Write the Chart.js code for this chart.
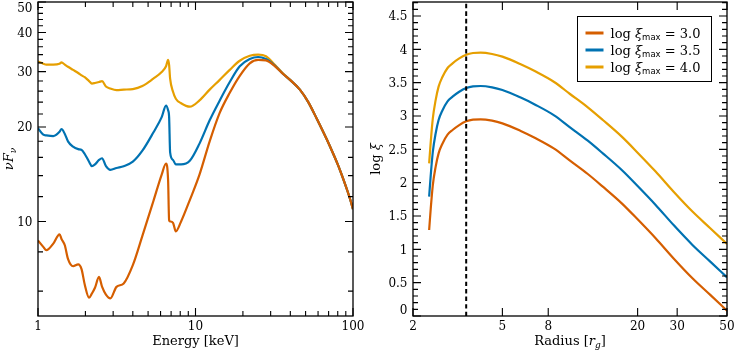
<!DOCTYPE html>
<html lang="es">
<head>
<meta charset="utf-8">
<title>Espectros y perfil de ionización</title>
<script src="https://cdn.jsdelivr.net/npm/chart.js@4.4.1/dist/chart.umd.min.js"></script>
<style>
  html, body { margin: 0; padding: 0; background: #fff; overflow: hidden; }
  canvas { position: absolute; left: 0; top: 0; }
</style>
</head>
<body>
<canvas id="grafico-espectros" width="736" height="351"></canvas>
<canvas id="grafico-ionizacion" width="736" height="351"></canvas>
<script>
// ---- Panel izquierdo: nuFnu vs energía [keV] ----
const energias = [1.0, 1.08, 1.13, 1.25, 1.37, 1.41, 1.48, 1.55, 1.67, 1.80, 1.89, 1.98, 2.11, 2.2, 2.3, 2.44, 2.55, 2.7, 2.88, 3.15,
  3.5, 4.0, 4.6, 5.4, 6.1, 6.5, 6.7, 6.8, 6.9, 7.2, 7.5, 8.1, 9.2, 10.6, 12.3, 14.2, 16.5, 19.1, 22.1, 25,
  28, 32, 36, 40, 46, 52, 59, 68, 75, 80, 83, 87, 92, 96, 100];
const espectroXi40 = [32.3, 31.8, 31.6, 31.6, 31.8, 32.1, 31.6, 31.1, 30.4, 29.7, 29.2, 28.8, 28.0, 27.5, 27.6, 27.8, 28.0, 26.9, 26.5, 26.2,
  26.3, 26.4, 27.0, 28.5, 29.9, 31.2, 32.7, 31.5, 28.5, 25.9, 24.6, 23.8, 23.2, 24.3, 26.3, 28.2, 30.4, 32.5, 33.7, 34.0,
  33.6, 31.5, 29.6, 28.2, 26.3, 24.0, 21.2, 18.3, 16.4, 15.2, 14.5, 13.6, 12.55, 11.75, 10.95];
const espectroXi35 = [19.8, 18.9, 18.8, 18.7, 19.3, 19.7, 19.0, 18.0, 17.3, 17.0, 16.9, 16.4, 15.5, 15.0, 15.2, 15.7, 15.9, 15.0, 14.6, 14.8,
  15.0, 15.5, 16.8, 19.2, 21.5, 23.4, 22.6, 21.5, 16.6, 15.7, 15.2, 15.2, 15.6, 17.7, 21.0, 24.2, 27.8, 31.2, 32.9, 33.4,
  32.9, 31.3, 29.5, 28.2, 26.3, 24.0, 21.2, 18.3, 16.4, 15.2, 14.5, 13.6, 12.55, 11.75, 10.95];
const espectroXi30 = [8.7, 8.3, 8.1, 8.5, 9.1, 8.8, 8.4, 7.6, 7.2, 7.3, 7.05, 6.3, 5.72, 5.9, 6.15, 6.66, 6.2, 5.85, 5.69, 6.19,
  6.35, 7.26, 9.0, 11.6, 14.1, 15.3, 13.5, 10.1, 10.0, 9.9, 9.3, 10.0, 11.7, 14.1, 18.0, 22.1, 25.7, 29.1, 31.9, 32.7,
  32.6, 31.2, 29.5, 28.2, 26.3, 24.0, 21.2, 18.3, 16.4, 15.2, 14.5, 13.6, 12.55, 11.75, 10.95];

// ---- Panel derecho: log xi vs radio [r_g] ----
const radios = [2.36, 2.40, 2.45, 2.52, 2.6, 2.7, 2.85, 3.0, 3.2, 3.45, 3.7, 4.0, 4.5, 5, 6, 7, 8.5, 10, 12, 14,
  17, 20, 24, 29, 35, 42, 50];
const perfilXi40 = [2.29, 2.62, 2.96, 3.23, 3.44, 3.58, 3.72, 3.79, 3.86, 3.92, 3.945, 3.95, 3.93, 3.89, 3.78, 3.67, 3.51, 3.33, 3.13, 2.94,
  2.69, 2.45, 2.17, 1.86, 1.57, 1.32, 1.08];
const perfilXi35 = [1.79, 2.12, 2.46, 2.73, 2.94, 3.08, 3.22, 3.29, 3.36, 3.42, 3.445, 3.45, 3.43, 3.39, 3.28, 3.17, 3.01, 2.83, 2.63, 2.44,
  2.19, 1.95, 1.67, 1.36, 1.07, 0.82, 0.58];
const perfilXi30 = [1.29, 1.62, 1.96, 2.23, 2.44, 2.58, 2.72, 2.79, 2.86, 2.92, 2.945, 2.95, 2.93, 2.89, 2.78, 2.67, 2.51, 2.33, 2.13, 1.94,
  1.69, 1.45, 1.17, 0.86, 0.57, 0.32, 0.08];
const radioMarcado = 3.45;

// Valores de log xi_max para la leyenda
const valoresXiMax = ['3.0', '3.5', '4.0'];

// Marcas de los ejes
const ticksEnergia = [1, 10, 100];
const etiquetasEnergia = ['1', '10', '100'];
const ticksEnergiaMenores = [2, 3, 4, 5, 6, 7, 8, 9, 20, 30, 40, 50, 60, 70, 80, 90];
const ticksFlujo = [10, 20, 30, 40, 50];
const etiquetasFlujo = ['10', '20', '30', '40', '50'];
const ticksFlujoMenores = [6, 8, 12, 14, 16, 18, 22, 24, 26, 28, 32, 34, 36, 38, 42, 44, 46, 48];
const ticksRadio = [2, 5, 8, 20, 30, 50];
const etiquetasRadio = ['2', '5', '8', '20', '30', '50'];
const ticksXi = [0, 0.5, 1, 1.5, 2, 2.5, 3, 3.5, 4, 4.5];
const etiquetasXi = ['0', '0.5', '1', '1.5', '2', '2.5', '3', '3.5', '4', '4.5'];

const colores = ['#D55E00', '#0072B2', '#E69F00'];
const SERIF = '"DejaVu Serif", serif';

// marcas menores de log xi cada 0.1 (sin las de 0.5)
const ticksXiMenores = [];
for (let i = 1; i <= 47; i++) {
  if (i % 5 !== 0) ticksXiMenores.push(i / 10);
}

function puntos(xs, ys) {
  return xs.map((x, i) => ({ x: x, y: ys[i] }));
}

/**
 * Dibuja texto con tramos (cursiva, subíndices) centrado en (x, y)
 */
function dibujarTramos(ctx, tramos, x, y) {
  let total = 0;
  tramos.forEach(t => { ctx.font = t.font; total += ctx.measureText(t.t).width; });
  let cx = x - total / 2;
  ctx.textAlign = 'left';
  ctx.textBaseline = 'alphabetic';
  tramos.forEach(t => {
    ctx.font = t.font;
    ctx.fillText(t.t, cx, y + (t.dy || 0));
    cx += ctx.measureText(t.t).width;
  });
}

/**
 * Plugin: marco, marcas hacia adentro, etiquetas, títulos y leyenda
 */
function crearMarco(cfg) {
  return {
    id: 'marco',
    afterDatasetsDraw(chart) {
      const ctx = chart.ctx;
      const a = chart.chartArea;
      const sx = chart.scales.x, sy = chart.scales.y;
      ctx.save();
      ctx.strokeStyle = '#000';
      ctx.fillStyle = '#000';
      ctx.lineWidth = 1.1;

      // Marcas en X (abajo y arriba)
      const marcasX = (vals, largo) => vals.forEach(v => {
        const p = sx.getPixelForValue(v);
        ctx.beginPath();
        ctx.moveTo(p, a.bottom); ctx.lineTo(p, a.bottom - largo);
        ctx.moveTo(p, a.top); ctx.lineTo(p, a.top + largo);
        ctx.stroke();
      });
      // Marcas en Y (izquierda y derecha)
      const marcasY = (vals, largo) => vals.forEach(v => {
        const p = sy.getPixelForValue(v);
        ctx.beginPath();
        ctx.moveTo(a.left, p); ctx.lineTo(a.left + largo, p);
        ctx.moveTo(a.right, p); ctx.lineTo(a.right - largo, p);
        ctx.stroke();
      });
      marcasX(cfg.ticksX, 8);
      marcasX(cfg.ticksXMenores || [], 5);
      marcasY(cfg.ticksY, 8);
      marcasY(cfg.ticksYMenores || [], 5);

      ctx.lineWidth = 1.3;
      ctx.strokeRect(a.left, a.top, a.right - a.left, a.bottom - a.top);

      // Etiquetas de marcas
      ctx.font = '12px ' + SERIF;
      ctx.textBaseline = 'alphabetic';
      ctx.textAlign = 'center';
      cfg.ticksX.forEach((v, i) => {
        ctx.fillText(cfg.etiquetasX[i], sx.getPixelForValue(v), a.bottom + 14);
      });
      ctx.textAlign = 'right';
      cfg.ticksY.forEach((v, i) => {
        let p = sy.getPixelForValue(v);
        p = Math.min(Math.max(p, a.top + 5.5), a.bottom - 6);
        ctx.fillText(cfg.etiquetasY[i], a.left - 5.5, p + 4.4);
      });

      // Título del eje X
      dibujarTramos(ctx, cfg.tituloX, (a.left + a.right) / 2, 345);

      // Título del eje Y (rotado)
      ctx.save();
      ctx.translate(cfg.tituloYx, (a.top + a.bottom) / 2);
      ctx.rotate(-Math.PI / 2);
      dibujarTramos(ctx, cfg.tituloY, 0, 4.5);
      ctx.restore();

      // Leyenda
      if (cfg.leyenda) {
        const L = cfg.leyenda;
        ctx.fillStyle = '#fff';
        ctx.fillRect(L.x, L.y, L.w, L.h);
        ctx.lineWidth = 1;
        ctx.strokeStyle = '#000';
        ctx.strokeRect(L.x, L.y, L.w, L.h);
        chart.data.datasets.forEach(ds => {
          if (ds.xiMax === undefined) return;
          const k = valoresXiMax.indexOf(ds.xiMax);
          const fy = L.y + 16.5 + k * 17;
          ctx.strokeStyle = ds.borderColor;
          ctx.lineWidth = 3;
          ctx.beginPath();
          ctx.moveTo(L.x + 8, fy); ctx.lineTo(L.x + 26, fy);
          ctx.stroke();
          ctx.fillStyle = '#000';
          ctx.textAlign = 'left';
          let cx = L.x + 33;
          const tramos = [
            { t: 'log ', font: '13px ' + SERIF },
            { t: 'ξ', font: 'italic 13px ' + SERIF },
            { t: 'max', font: '8.5px "DejaVu Sans", sans-serif', dy: 2.5 },
            { t: ' = ', font: '13px ' + SERIF },
            { t: ds.xiMax, font: '13px ' + SERIF }
          ];
          tramos.forEach(t => {
            ctx.font = t.font;
            ctx.fillText(t.t, cx, fy + 4.5 + (t.dy || 0));
            cx += ctx.measureText(t.t).width;
          });
        });
      }
      ctx.restore();
    }
  };
}

function ajustarY(ancho) {
  return function(scale) {
    scale.width = ancho;
    scale.paddingTop = 0;
    scale.paddingBottom = 0;
  };
}
function ajustarX(scale) {
  scale.height = 35;
  scale.paddingLeft = 0;
  scale.paddingRight = 0;
}

const estiloLinea = {
  showLine: true,
  pointRadius: 0,
  borderWidth: 2.2,
  cubicInterpolationMode: 'monotone',
  borderJoinStyle: 'round',
  fill: false
};

// Gráfico izquierdo: espectros
new Chart(document.getElementById('grafico-espectros'), {
  type: 'scatter',
  data: {
    datasets: [
      { ...estiloLinea, data: puntos(energias, espectroXi30), borderColor: colores[0], xiMax: '3.0' },
      { ...estiloLinea, data: puntos(energias, espectroXi35), borderColor: colores[1], xiMax: '3.5' },
      { ...estiloLinea, data: puntos(energias, espectroXi40), borderColor: colores[2], xiMax: '4.0' }
    ]
  },
  options: {
    responsive: false,
    animation: false,
    events: [],
    layout: { padding: { left: 0, top: 2, right: 383, bottom: 0 } },
    plugins: { legend: { display: false }, tooltip: { enabled: false } },
    scales: {
      x: {
        type: 'logarithmic', min: 1, max: 100,
        grid: { display: false }, border: { display: false },
        ticks: { display: false },
        afterFit: ajustarX
      },
      y: {
        type: 'logarithmic', min: 5, max: 50,
        grid: { display: false }, border: { display: false },
        ticks: { display: false },
        afterFit: ajustarY(38)
      }
    }
  },
  plugins: [crearMarco({
    ticksX: ticksEnergia, etiquetasX: etiquetasEnergia, ticksXMenores: ticksEnergiaMenores,
    ticksY: ticksFlujo, etiquetasY: etiquetasFlujo, ticksYMenores: ticksFlujoMenores,
    tituloX: [{ t: 'Energy [keV]', font: '13px ' + SERIF }],
    tituloY: [
      { t: 'νF', font: 'italic 13px ' + SERIF },
      { t: 'ν', font: 'italic 9px ' + SERIF, dy: 3 }
    ],
    tituloYx: 8
  })]
});

// Gráfico derecho: perfil de ionización
new Chart(document.getElementById('grafico-ionizacion'), {
  type: 'scatter',
  data: {
    datasets: [
      {
        ...estiloLinea,
        data: [{ x: radioMarcado, y: 0 }, { x: radioMarcado, y: 4.71 }],
        borderColor: '#000', borderWidth: 2, borderDash: [4.5, 3]
      },
      { ...estiloLinea, data: puntos(radios, perfilXi30), borderColor: colores[0], xiMax: '3.0' },
      { ...estiloLinea, data: puntos(radios, perfilXi35), borderColor: colores[1], xiMax: '3.5' },
      { ...estiloLinea, data: puntos(radios, perfilXi40), borderColor: colores[2], xiMax: '4.0' }
    ]
  },
  options: {
    responsive: false,
    animation: false,
    events: [],
    layout: { padding: { left: 0, top: 2, right: 9, bottom: 0 } },
    plugins: { legend: { display: false }, tooltip: { enabled: false } },
    scales: {
      x: {
        type: 'logarithmic', min: 2, max: 50,
        grid: { display: false }, border: { display: false },
        ticks: { display: false },
        afterFit: ajustarX
      },
      y: {
        type: 'linear', min: 0, max: 4.71,
        grid: { display: false }, border: { display: false },
        ticks: { display: false },
        afterFit: ajustarY(413)
      }
    }
  },
  plugins: [crearMarco({
    ticksX: ticksRadio, etiquetasX: etiquetasRadio,
    ticksY: ticksXi, etiquetasY: etiquetasXi, ticksYMenores: ticksXiMenores,
    tituloX: [
      { t: 'Radius [', font: '13px ' + SERIF },
      { t: 'r', font: 'italic 13px ' + SERIF },
      { t: 'g', font: 'italic 9px ' + SERIF, dy: 3 },
      { t: ']', font: '13px ' + SERIF }
    ],
    tituloY: [
      { t: 'log ', font: '13px ' + SERIF },
      { t: 'ξ', font: 'italic 13px ' + SERIF }
    ],
    tituloYx: 375,
    leyenda: { x: 577.5, y: 16.5, w: 134, h: 65 }
  })]
});
</script>
</body>
</html>
